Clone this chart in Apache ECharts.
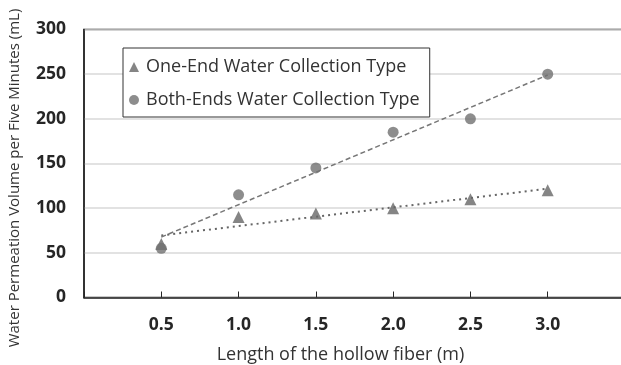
<!DOCTYPE html>
<html>
<head>
<meta charset="utf-8">
<script src="https://cdn.jsdelivr.net/npm/echarts@6/dist/echarts.min.js"></script>
<style>
html,body{margin:0;padding:0;background:#fff;}
#chart{width:621px;height:365px;}
</style>
</head>
<body>
<div id="chart"></div>
<script>
var lengths = [0.5, 1.0, 1.5, 2.0, 2.5, 3.0];
var oneEnd = [60, 90, 94, 100, 110, 120];
var bothEnds = [55, 115, 145, 185, 200, 250];
var yTicks = [0, 50, 100, 150, 200, 250, 300];
var xTickLabels = ['0.5', '1.0', '1.5', '2.0', '2.5', '3.0'];

function pairs(xs, ys) { return xs.map(function (x, i) { return [x, ys[i]]; }); }
function trend(xs, ys) {
  var n = xs.length, mx = 0, my = 0;
  for (var i = 0; i < n; i++) { mx += xs[i]; my += ys[i]; }
  mx /= n; my /= n;
  var sxy = 0, sxx = 0;
  for (var j = 0; j < n; j++) { sxy += (xs[j] - mx) * (ys[j] - my); sxx += (xs[j] - mx) * (xs[j] - mx); }
  var b = sxy / sxx, a = my - b * mx;
  var x0 = xs[0], x1 = xs[n - 1];
  return [[x0, a + b * x0], [x1, a + b * x1]];
}

var font = 'Open Sans';
var chart = echarts.init(document.getElementById('chart'), null, {renderer: 'canvas'});
chart.setOption({
  animation: false,
  backgroundColor: '#fff',
  grid: {left: 84, top: 29.5, width: 541, height: 268, show: true, borderColor: '#262626', borderWidth: 1.5, containLabel: false, outerBoundsMode: 'none'},
  legend: {
    orient: 'vertical', left: 123, top: 48,
    data: ['One-End Water Collection Type', 'Both-Ends Water Collection Type'],
    backgroundColor: '#fff', borderColor: '#333', borderWidth: 1,
    padding: [10, 10, 8, 6], itemGap: 15, itemWidth: 10, itemHeight: 10,
    textStyle: {fontFamily: font, fontSize: 18, color: '#333', padding: [0, 0, 0, 2]}
  },
  xAxis: {
    type: 'value', min: 0, max: 3.5, interval: 0.5,
    name: 'Length of the hollow fiber (m)', nameLocation: 'middle', nameGap: 48,
    nameTextStyle: {fontFamily: font, fontSize: 18, color: '#333', padding: [0, 0, 0, -28]},
    axisLine: {show: true, lineStyle: {color: '#262626', width: 1.5}},
    axisTick: {show: true, inside: true, length: 6, lineStyle: {color: '#262626', width: 1}},
    splitLine: {show: false},
    axisLabel: {
      margin: 19, fontFamily: font, fontSize: 17.5, fontWeight: 'bold', color: '#262626',
      formatter: function (v) {
        var s = v.toFixed(1);
        return xTickLabels.indexOf(s) >= 0 ? s : '';
      }
    }
  },
  yAxis: {
    type: 'value', min: yTicks[0], max: yTicks[yTicks.length - 1], interval: 50,
    name: 'Water Permeation Volume per Five Minutes (mL)', nameLocation: 'middle', nameGap: 62,
    nameTextStyle: {fontFamily: font, fontSize: 15, color: '#333', padding: [0, 0, 0, -29]},
    axisLine: {show: true, lineStyle: {color: '#262626', width: 1.5}},
    axisTick: {show: false},
    splitLine: {show: true, lineStyle: {color: '#d9d9d9', width: 1.5}},
    axisLabel: {margin: 18, fontFamily: font, fontSize: 17.5, fontWeight: 'bold', color: '#262626'}
  },
  series: [
    {
      name: 'One-End trend', type: 'line', data: trend(lengths, oneEnd), symbol: 'none',
      lineStyle: {color: '#666', width: 2, type: [2, 4]}, z: 2, silent: true
    },
    {
      name: 'Both-Ends trend', type: 'line', data: trend(lengths, bothEnds), symbol: 'none',
      lineStyle: {color: '#777', width: 1.5, type: [5, 3]}, z: 2, silent: true
    },
    {
      name: 'One-End Water Collection Type', type: 'scatter', data: pairs(lengths, oneEnd),
      symbol: 'triangle', symbolSize: 12, itemStyle: {color: '#666'}, z: 3
    },
    {
      name: 'Both-Ends Water Collection Type', type: 'scatter', data: pairs(lengths, bothEnds),
      symbol: 'circle', symbolSize: 11, itemStyle: {color: '#707070'}, z: 3
    }
  ]
});
</script>
</body>
</html>
